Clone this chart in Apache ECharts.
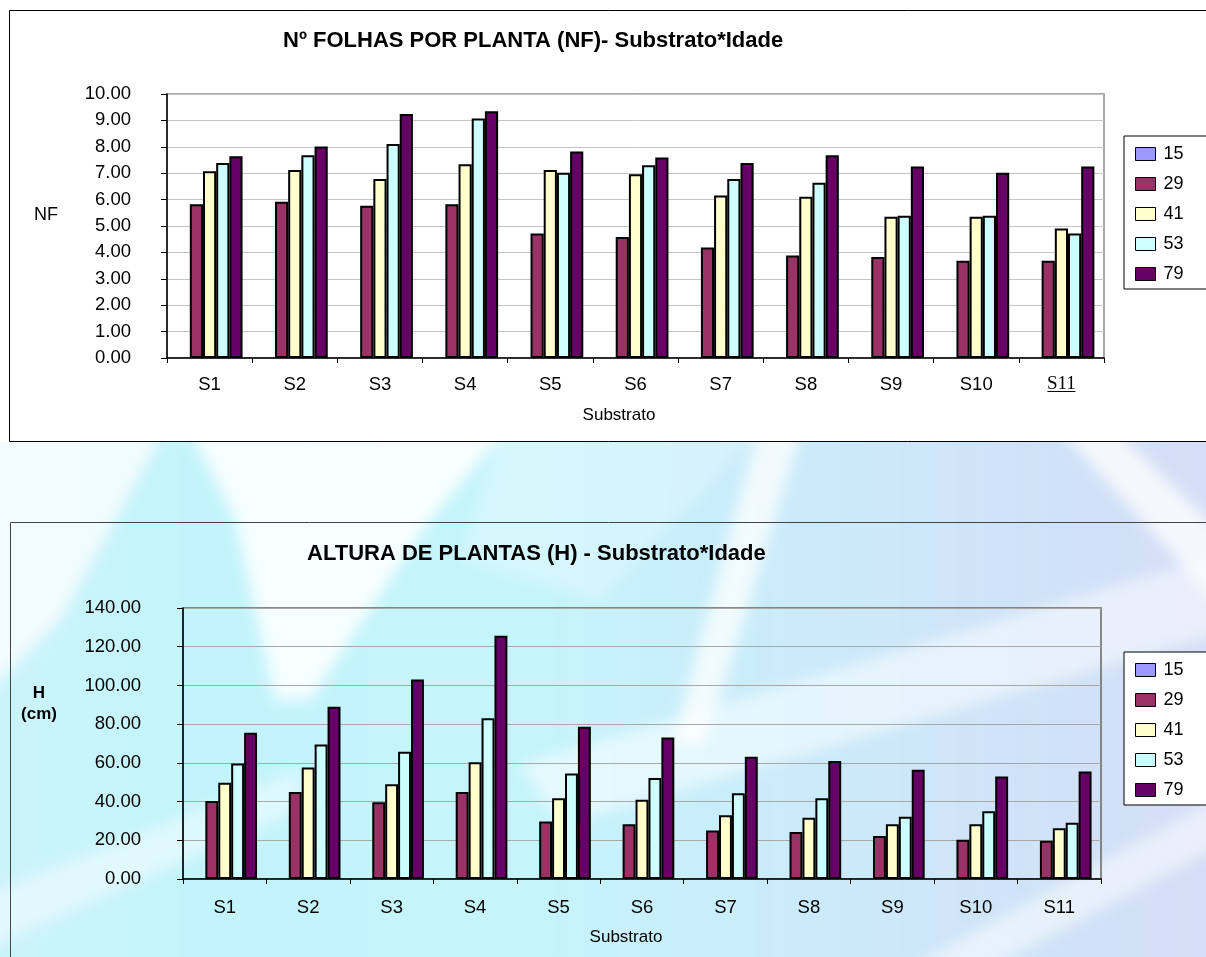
<!DOCTYPE html>
<html><head><meta charset="utf-8">
<script src="https://cdn.jsdelivr.net/npm/echarts@6/dist/echarts.min.js"></script>
<style>
html,body{margin:0;padding:0;background:#fff;overflow:hidden}
#wrap{position:relative;width:1206px;height:957px}
#bg{position:absolute;left:0;top:442px;width:1206px;height:515px;overflow:hidden}
#bg svg{position:absolute;left:-40px;top:-40px;filter:blur(7px)}
#c{position:absolute;left:0;top:0;width:1206px;height:957px}
</style>
</head><body><div id="wrap">
<div id="bg">
<svg width="1286" height="595" viewBox="0 0 1286 595">
<defs><linearGradient id="g" x1="0" y1="0" x2="1" y2="0">
<stop offset="0" stop-color="#cdf3fa"/><stop offset="0.2" stop-color="#c3f4fb"/><stop offset="0.45" stop-color="#c6f4fb"/>
<stop offset="0.65" stop-color="#cbebfa"/><stop offset="0.85" stop-color="#d0e2f7"/><stop offset="1" stop-color="#d6ddf5"/></linearGradient></defs>
<g transform="translate(40,-402)">
<rect x="-40" y="400" width="1290" height="600" fill="url(#g)"/>
<polygon points="190,430 505,430 430,520 310,700 275,700 235,520" fill="#fff" fill-opacity="0.85"/>
<polygon points="-40,430 165,430 60,620 -40,720" fill="#fff" fill-opacity="0.75"/>
<polygon points="520,765 1250,545 1250,625 560,825" fill="#fff" fill-opacity="0.5"/>
<polygon points="758,430 802,430 705,745 672,745" fill="#fff" fill-opacity="0.75"/>
<polygon points="1060,430 1115,430 1250,560 1250,640" fill="#fff" fill-opacity="0.75"/>
<polygon points="-40,905 300,770 300,810 -40,960" fill="#fff" fill-opacity="0.45"/>
<polygon points="850,1000 1250,780 1250,830 930,1000" fill="#fff" fill-opacity="0.5"/>
<polygon points="500,430 760,430 600,600 460,560" fill="#fff" fill-opacity="0.25"/>
</g></svg>
</div>
<div id="c"></div>
</div>
<script>
const categories = ['S1','S2','S3','S4','S5','S6','S7','S8','S9','S10','S11'];
const seriesNames = ['15','29','41','53','79'];
const seriesColors = ['#9999FF','#993366','#FFFFCC','#CCFFFF','#660066'];

// NF - number of leaves per plant
const nf15 = [null,null,null,null,null,null,null,null,null,null,null];
const nf29 = [5.82,5.92,5.77,5.82,4.72,4.58,4.19,3.88,3.83,3.68,3.68];
const nf41 = [7.07,7.12,6.78,7.34,7.12,6.96,6.16,6.11,5.35,5.35,4.91];
const nf53 = [7.39,7.68,8.11,9.07,7.02,7.30,6.78,6.64,5.39,5.39,4.72];
const nf79 = [7.64,8.01,9.24,9.35,7.82,7.59,7.39,7.68,7.25,7.02,7.25];

// H - plant height (cm)
const h15 = [null,null,null,null,null,null,null,null,null,null,null];
const h29 = [40.3,45.0,39.7,45.0,29.7,28.3,25.0,24.3,22.2,20.3,19.7];
const h41 = [49.7,57.6,49.0,60.3,41.7,41.0,32.9,31.6,28.3,28.3,26.2];
const h53 = [59.7,69.5,65.7,83.1,54.5,52.2,44.3,41.7,32.2,35.0,29.0];
const h79 = [75.5,89.0,103.1,125.7,78.6,73.1,63.1,61.0,56.4,52.9,55.5];

const title1 = 'Nº FOLHAS POR PLANTA (NF)- Substrato*Idade';
const title2 = 'ALTURA DE PLANTAS (H) - Substrato*Idade';

const FONT = 'Liberation Sans, Arial, sans-serif';
const nfData = [nf15, nf29, nf41, nf53, nf79];
const hData = [h15, h29, h41, h53, h79];

function makeSeries(dataArr, idx) {
  return dataArr.map((d, i) => ({
    name: seriesNames[i], type: 'bar', xAxisIndex: idx, yAxisIndex: idx, data: d,
    barGap: '0%', barCategoryGap: '22.6%',
    itemStyle: { color: seriesColors[i], borderColor: '#000', borderWidth: 2 },
    emphasis: { disabled: true }
  }));
}

function legendCfg(top) {
  return {
    orient: 'vertical', left: 1124, top: top, data: seriesNames,
    backgroundColor: '#fff', borderColor: '#000', borderWidth: 1,
    padding: [9, 80, 6, 11], itemWidth: 20, itemHeight: 13, itemGap: 12,
    icon: 'rect', selectedMode: false,
    itemStyle: { borderWidth: 1 },
    textStyle: { fontSize: 18, lineHeight: 18, color: '#000', fontFamily: FONT, padding: [0,0,0,3] }
  };
}

const boxes = [
  { id:'box1', type:'rect', z:-50, shape:{x:9.5,y:10.5,width:1220,height:431}, style:{fill:'#fff',stroke:'#000',lineWidth:1}},
  { id:'box2', type:'rect', z:-50, shape:{x:10.5,y:522.5,width:1220,height:460}, style:{fill:'none',stroke:'#444',lineWidth:1}}
];

function xAxisCfg(idx, margin, nameGap, padRight, underlineLast) {
  return {
    gridIndex: idx, type: 'category', data: categories,
    axisLine: { lineStyle: { color: '#000', width: 1.5 } },
    axisTick: { show: true, length: 5, lineStyle: { color: '#000', width: 1 } },
    axisLabel: {
      color: '#000', fontSize: 18.5, fontFamily: FONT, margin: margin,
      formatter: underlineLast ? (v => v === 'S11' ? '{u|' + v + '}' : v) : (v => v),
      rich: { u: { fontFamily: 'Liberation Serif, Times New Roman, serif', fontSize: 19, color: '#000' } }
    },
    splitLine: { show: false },
    name: 'Substrato', nameLocation: 'middle', nameGap: nameGap,
    nameTextStyle: { color: '#000', fontSize: 17, fontFamily: FONT, padding: [0, padRight, 0, 0] }
  };
}

function yAxisCfg(idx, max, interval, margin, gridColor, name, nameStyle, nameGap) {
  return {
    gridIndex: idx, type: 'value', min: 0, max: max, interval: interval,
    axisLine: { show: true, lineStyle: { color: '#000', width: 1.5 } },
    axisTick: { show: true, length: 6, lineStyle: { color: '#000', width: 1 } },
    axisLabel: { color: '#000', fontSize: 18.5, fontFamily: FONT, margin: margin, formatter: v => v.toFixed(2) },
    splitLine: { show: true, lineStyle: { color: gridColor, width: 1 } },
    name: name, nameLocation: 'middle', nameRotate: 0, nameGap: nameGap,
    nameTextStyle: nameStyle
  };
}

const chart = echarts.init(document.getElementById('c'), null, { renderer: 'canvas' });
const option = {
  animation: false,
  backgroundColor: 'transparent',
  graphic: { elements: boxes },
  title: [
    { text: title1, left: 283, top: 30, padding: 0, textStyle: { fontSize: 22, fontWeight: 'bold', color: '#000', fontFamily: FONT } },
    { text: title2, left: 307, top: 543, padding: 0, textStyle: { fontSize: 22, fontWeight: 'bold', color: '#000', fontFamily: FONT } }
  ],
  legend: [legendCfg(136), legendCfg(652)],
  grid: [
    { left: 167, top: 94, width: 937, height: 264, show: true, backgroundColor: '#fff', borderColor: '#8a8a8a', borderWidth: 1.5, containLabel: false },
    { left: 183, top: 608, width: 918, height: 271, show: true, backgroundColor: 'transparent', borderColor: '#666', borderWidth: 1.5, containLabel: false }
  ],
  xAxis: [ xAxisCfg(0, 17, 49, 33, true), xAxisCfg(1, 19, 50, 32, false) ],
  yAxis: [
    yAxisCfg(0, 10, 1, 36, '#c4c4c4', '{n|NF}\n{s| }',
      { color: '#000', fontFamily: FONT, align: 'center', verticalAlign: 'middle',
        rich: { n: { fontSize: 18, lineHeight: 18, color: '#000', fontFamily: FONT }, s: { fontSize: 10, height: 22, lineHeight: 22 } } }, 121),
    yAxisCfg(1, 140, 20, 42, '#a8a8a8', '{b|H}\n{b|(cm)}\n{s| }',
      { color: '#000', fontFamily: FONT, align: 'center', verticalAlign: 'middle',
        rich: { b: { fontSize: 17, fontWeight: 'bold', lineHeight: 21, color: '#000', fontFamily: FONT }, s: { fontSize: 10, height: 80, lineHeight: 80 } } }, 144)
  ],
  series: makeSeries(nfData, 0).concat(makeSeries(hData, 1))
};
chart.setOption(option);

// underline under the last category label of the first chart (position from the axis scale)
const p = chart.convertToPixel({ xAxisIndex: 0, yAxisIndex: 0 }, ['S11', 0]);
if (p) {
  const yy = Math.round(p[1] + 17 + 16) + 0.5;
  chart.setOption({ graphic: { elements: [
    { id: 'ul', type: 'line', z: 100, shape: { x1: p[0] - 14, y1: yy, x2: p[0] + 14, y2: yy }, style: { stroke: '#000', lineWidth: 1 } }
  ] } });
}
</script></body></html>
